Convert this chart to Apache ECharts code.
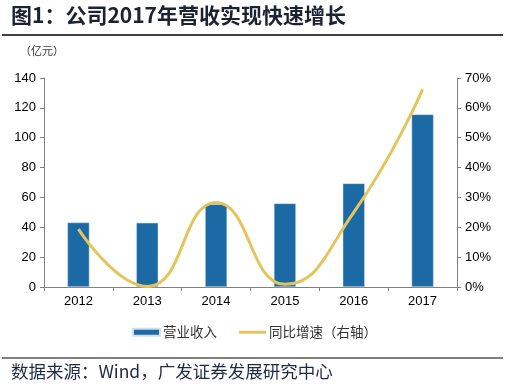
<!DOCTYPE html>
<html><head><meta charset="utf-8">
<script src="https://cdn.jsdelivr.net/npm/echarts@6/dist/echarts.min.js"></script>
<style>html,body{margin:0;padding:0;background:#fff}#c{width:505px;height:392px}</style>
</head><body><div id="c"></div>
<script>
var categories = ['2012','2013','2014','2015','2016','2017'];
var revenue = [43.2, 43.0, 55.5, 56.0, 69.4, 115.6];
var growth = [19.4, 0.2, 28.3, 0.9, 25.0, 66.2];
var leftTicks = [0, 20, 40, 60, 80, 100, 120, 140];
var rightTicks = [0, 10, 20, 30, 40, 50, 60, 70];
var seriesNames = ['营业收入', '同比增速（右轴）'];
var titleText = '图1：公司2017年营收实现快速增长';
var unitText = '（亿元）';
var sourceText = '数据来源：Wind，广发证券发展研究中心';

var chart = echarts.init(document.getElementById('c'), null, {renderer: 'canvas'});
var font = 'Arial, "Liberation Sans", sans-serif';
var cjk = '"Noto Sans CJK SC", sans-serif';
var axisLineStyle = {color: '#808080', width: 1};
chart.setOption({
  animation: false,
  grid: {left: 44, right: 48, top: 78, bottom: 105, containLabel: false},
  graphic: [
    {type: 'text', left: 11, top: 5, style: {text: titleText, font: 'bold 21px ' + cjk, fill: '#1b2333'}},
    {type: 'line', shape: {x1: 2, y1: 35, x2: 503, y2: 35}, style: {stroke: '#000', lineWidth: 1.5}},
    {type: 'text', left: 20, top: 45, style: {text: unitText, font: '11px ' + cjk, fill: '#333'}},
    {type: 'line', shape: {x1: 2, y1: 358, x2: 503, y2: 358}, style: {stroke: '#000', lineWidth: 1}},
    {type: 'text', left: 11, top: 363, style: {text: sourceText, font: '17.5px ' + cjk, fill: '#1f2a44'}}
  ],
  legend: {
    bottom: 48, left: 127, itemGap: 22, itemWidth: 27, itemHeight: 7,
    textStyle: {fontSize: 13.5, color: '#333', fontFamily: cjk, padding: [0, 0, 0, -2]},
    data: [
      {name: seriesNames[0], icon: 'rect'},
      {name: seriesNames[1], icon: 'path://M0,0 L27,0 L27,3 L0,3 Z'}
    ]
  },
  xAxis: {
    type: 'category', data: categories,
    axisLine: {lineStyle: axisLineStyle},
    axisTick: {show: true, length: 4, lineStyle: axisLineStyle, alignWithLabel: false},
    axisLabel: {color: '#000', fontSize: 13, fontFamily: font, margin: 8}
  },
  yAxis: [
    {type: 'value', min: 0, max: 140, interval: 20,
     axisLine: {show: true, lineStyle: axisLineStyle},
     axisTick: {show: true, length: 4, lineStyle: axisLineStyle},
     axisLabel: {color: '#000', fontSize: 13, fontFamily: font, margin: 8,
       formatter: function (v) { return leftTicks.indexOf(v) >= 0 ? String(v) : ''; }},
     splitLine: {show: false}},
    {type: 'value', min: 0, max: 70, interval: 10, position: 'right',
     axisLine: {show: true, lineStyle: axisLineStyle},
     axisTick: {show: true, length: 4, lineStyle: axisLineStyle},
     axisLabel: {color: '#000', fontSize: 13, fontFamily: font, margin: 8,
       formatter: function (v) { return rightTicks.indexOf(v) >= 0 ? v + '%' : ''; }},
     splitLine: {show: false}}
  ],
  series: [
    {name: seriesNames[0], type: 'bar', data: revenue, barWidth: 22, yAxisIndex: 0,
     itemStyle: {color: '#1c6aa5', borderColor: '#cfe0ee', borderWidth: 0.5}},
    {name: seriesNames[1], type: 'line', data: growth, yAxisIndex: 1, smooth: 0.5,
     showSymbol: false, symbol: 'none',
     lineStyle: {color: '#e4c55c', width: 3}, itemStyle: {color: '#e4c55c'}}
  ]
});
</script></body></html>
